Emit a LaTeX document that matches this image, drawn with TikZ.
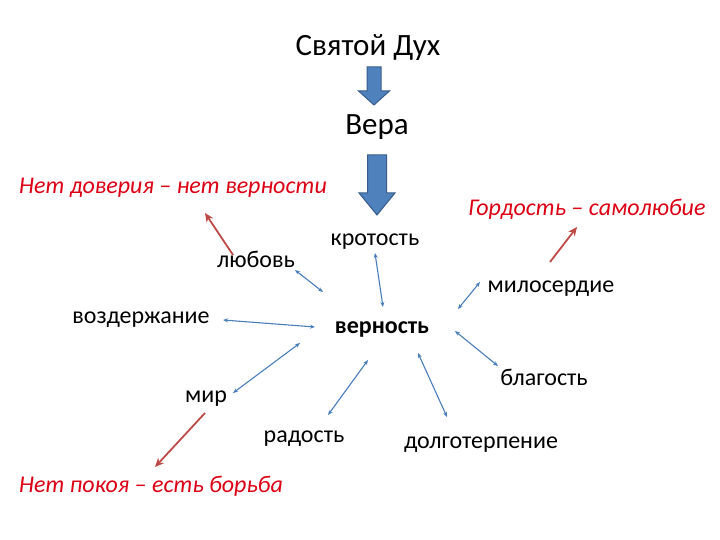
\documentclass[tikz,border=0pt]{standalone}
\usepackage{fontspec}
\setmainfont{Carlito}
\usetikzlibrary{arrows.meta}
\definecolor{BlockBlue}{RGB}{79,129,189}
\definecolor{BlockEdge}{RGB}{56,93,138}
\definecolor{LinkBlue}{RGB}{74,126,187}
\definecolor{LinkRed}{RGB}{190,75,72}
\definecolor{NoteRed}{RGB}{220,0,20}

\begin{document}
\begin{tikzpicture}[x=1pt,y=-1pt, every node/.style={inner sep=0pt}, lbl/.style={font=\fontsize{24}{28}\selectfont,text height=17pt,text depth=5pt}, head/.style={font=\fontsize{31}{36}\selectfont,text height=22pt,text depth=7pt}, note/.style={font=\fontsize{24}{28}\selectfont\itshape,text=NoteRed,text height=17pt,text depth=5pt}, blockarr/.style={fill=BlockBlue,draw=BlockEdge,line width=1pt,line join=miter}, link/.style={{Stealth[length=5pt,width=4pt]}-{Stealth[length=5pt,width=4pt]},LinkBlue,line width=1.1pt}, warn/.style={-{Stealth[length=9pt,width=8pt]},LinkRed,line width=1.8pt}]
\useasboundingbox (0,0) rectangle (720,540);
\node[head] (spirit) at (368,48) {Святой Дух};
\node[head] (faith) at (377,127) {Вера};
\node[note] (distrust) at (173,188) {Нет доверия – нет верности};
\node[note] (pride) at (587,209) {Гордость – самолюбие};
\node[note] (strife) at (151,486) {Нет покоя – есть борьба};
\node[lbl] (meek) at (375,239) {кротость};
\node[lbl] (love) at (256,261) {любовь};
\node[lbl] (mercy) at (551,286) {милосердие};
\node[lbl] (temper) at (141,317) {воздержание};
\node[lbl,font=\fontsize{24}{28}\selectfont\bfseries] (faithful) at (382,327) {верность};
\node[lbl] (peace) at (206,396) {мир};
\node[lbl] (good) at (544,379) {благость};
\node[lbl] (joy) at (304,436) {радость};
\node[lbl] (patience) at (481,442) {долготерпение};
% block arrows
\coordinate (a1) at (374,67);
\coordinate (a2) at (377,155);
\draw[blockarr] (a1) ++(-7,0) -- ++(0,24) -- ++(-8.5,0) -- ++(15.5,14) -- ++(15.5,-14) -- ++(-8.5,0) -- ++(0,-24) -- cycle;
\draw[blockarr] (a2) ++(-9.5,0) -- ++(0,38) -- ++(-8.5,0) -- ++(18,22) -- ++(18,-22) -- ++(-8.5,0) -- ++(0,-38) -- cycle;
% links to faithfulness
\draw[link] ([shift={(39,9)}]love.center) -- ([shift={(-59,-35)}]faithful.center);
\draw[link] ([shift={(0,14)}]meek.center) -- ([shift={(1,-20)}]faithful.center);
\draw[link] ([shift={(82,3)}]temper.center) -- ([shift={(-67,0)}]faithful.center);
\draw[link] ([shift={(-71,-4)}]mercy.center) -- ([shift={(76,-18)}]faithful.center);
\draw[link] ([shift={(73,4)}]faithful.center) -- ([shift={(-46,-13)}]good.center);
\draw[link] ([shift={(27,-3)}]peace.center) -- ([shift={(-82,16)}]faithful.center);
\draw[link] ([shift={(24,-21)}]joy.center) -- ([shift={(-14,33)}]faithful.center);
\draw[link] ([shift={(36,26)}]faithful.center) -- ([shift={(-34,-25)}]patience.center);
% red consequences
\draw[warn] ([shift={(-23,-6)}]love.center) -- ([shift={(32,25)}]distrust.center);
\draw[warn] ([shift={(-1,-24)}]mercy.center) -- ([shift={(-10,18)}]pride.center);
\draw[warn] ([shift={(-1,17)}]peace.center) -- ([shift={(4,-19)}]strife.center);
\end{tikzpicture}
\end{document}
